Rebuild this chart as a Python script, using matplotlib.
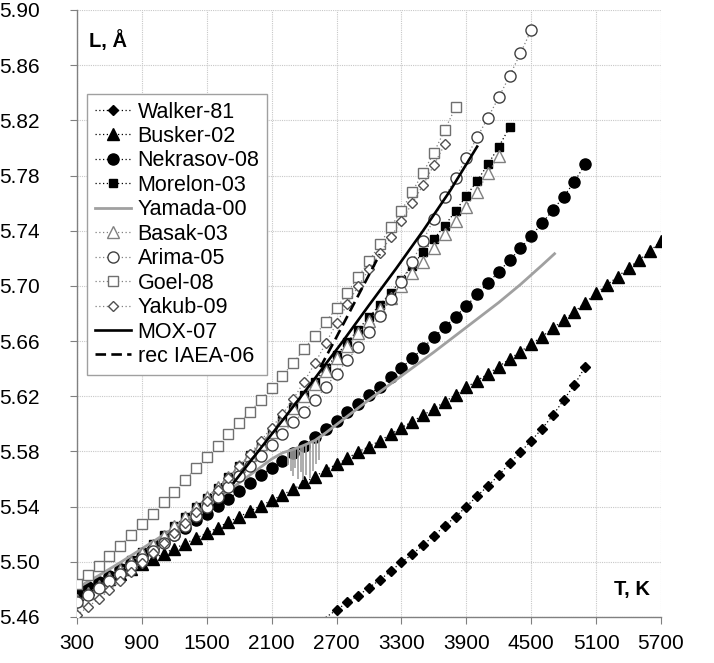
import matplotlib
matplotlib.use("Agg")
import matplotlib.pyplot as plt
import numpy as np
from matplotlib.lines import Line2D

plt.rcParams['font.family'] = ['Liberation Sans', 'DejaVu Sans']

# ---------------- data ----------------
walker_T = list(range(2600, 5001, 100))
walker_L = [5.4597, 5.4651, 5.4707, 5.4755, 5.4813, 5.4868, 5.4933, 5.4996, 5.5054, 5.5122,
            5.5190, 5.5260, 5.5327, 5.5400, 5.5477, 5.5550, 5.5629, 5.5714, 5.5796, 5.5878,
            5.5965, 5.6062, 5.6173, 5.6284, 5.6415]

busker_T = list(range(300, 5701, 100))
busker_L = [5.4770, 5.4805, 5.4840, 5.4876, 5.4912, 5.4948, 5.4985, 5.5020, 5.5060, 5.5096,
            5.5132, 5.5172, 5.5207, 5.5248, 5.5288, 5.5327, 5.5366, 5.5408, 5.5445, 5.5487,
            5.5525, 5.5575, 5.5618, 5.5666, 5.5707, 5.5750, 5.5798, 5.5835, 5.5878, 5.5924,
            5.5972, 5.6016, 5.6064, 5.6108, 5.6161, 5.6209, 5.6265, 5.6313, 5.6362, 5.6415,
            5.6470, 5.6523, 5.6579, 5.6632, 5.6693, 5.6753, 5.6813, 5.6878, 5.6947, 5.7007,
            5.7067, 5.7130, 5.7188, 5.7252, 5.7326]

nekrasov_T = list(range(300, 5001, 100))
nekrasov_L = [5.4775, 5.4815, 5.4857, 5.4900, 5.4945, 5.4992, 5.5040, 5.5090, 5.5141, 5.5194,
              5.5245, 5.5300, 5.5350, 5.5403, 5.5458, 5.5513, 5.5569, 5.5627, 5.5679, 5.5728,
              5.5787, 5.5838, 5.5902, 5.5961, 5.6024, 5.6086, 5.6142, 5.6209, 5.6270, 5.6338,
              5.6407, 5.6475, 5.6552, 5.6628, 5.6700, 5.6777, 5.6854, 5.6939, 5.7020, 5.7103,
              5.7186, 5.7272, 5.7362, 5.7454, 5.7550, 5.7647, 5.7756, 5.7884]

morelon_T = list(range(300, 4301, 100))
morelon_L = [5.4740, 5.4790, 5.4842, 5.4896, 5.4952, 5.5010, 5.5069, 5.5130, 5.5193, 5.5258,
             5.5325, 5.5394, 5.5465, 5.5538, 5.5614, 5.5692, 5.5773, 5.5856, 5.5942, 5.6030,
             5.6120, 5.6212, 5.6306, 5.6402, 5.6498, 5.6592, 5.6684, 5.6774, 5.6862, 5.6950,
             5.7045, 5.7147, 5.7244, 5.7340, 5.7436, 5.7543, 5.7652, 5.7762, 5.7881, 5.8009,
             5.8150]

yamada_T = [300, 500, 700, 900, 1100, 1300, 1500, 1700, 1900, 2100, 2200, 2300, 2400, 2500,
            2600, 2700, 2800, 2900, 3000, 3200, 3400, 3600, 3800, 4000, 4200, 4400, 4600, 4725]
yamada_L = [5.4810, 5.4900, 5.4995, 5.5095, 5.5195, 5.5300, 5.5405, 5.5515, 5.5630, 5.5745,
            5.5790, 5.5815, 5.5845, 5.5880, 5.5935, 5.5995, 5.6055, 5.6115, 5.6175, 5.6290,
            5.6405, 5.6520, 5.6640, 5.6760, 5.6880, 5.7010, 5.7150, 5.7240]
yamada_spike_T = [2250, 2280, 2300, 2320, 2345, 2370, 2390, 2420, 2450, 2480, 2510, 2540]
yamada_spike_low = [5.570, 5.566, 5.562, 5.568, 5.560, 5.565, 5.559, 5.563, 5.561, 5.566,
                    5.571, 5.574]

basak_T = list(range(300, 4201, 100))
basak_L = [5.4720, 5.4772, 5.4826, 5.4882, 5.4940, 5.5000, 5.5062, 5.5125, 5.5190, 5.5257,
           5.5325, 5.5395, 5.5467, 5.5541, 5.5617, 5.5695, 5.5775, 5.5857, 5.5940, 5.6025,
           5.6112, 5.6200, 5.6290, 5.6382, 5.6475, 5.6567, 5.6657, 5.6745, 5.6830, 5.6915,
           5.7000, 5.7091, 5.7176, 5.7277, 5.7374, 5.7471, 5.7575, 5.7683, 5.7817, 5.7942]

arima_T = list(range(300, 4501, 100))
arima_L = [5.4711, 5.4760, 5.4810, 5.4862, 5.4915, 5.4968, 5.5022, 5.5076, 5.5135, 5.5198,
           5.5262, 5.5330, 5.5400, 5.5472, 5.5545, 5.5620, 5.5693, 5.5770, 5.5850, 5.5930,
           5.6010, 5.6088, 5.6173, 5.6268, 5.6365, 5.6463, 5.6559, 5.6668, 5.6780, 5.6905,
           5.7031, 5.7176, 5.7328, 5.7485, 5.7642, 5.7780, 5.7930, 5.8077, 5.8220, 5.8367,
           5.8522, 5.8686, 5.8855]

goel_T = list(range(300, 3801, 100))
goel_L = [5.4839, 5.4904, 5.4970, 5.5042, 5.5115, 5.5194, 5.5275, 5.5347, 5.5431, 5.5508,
          5.5595, 5.5680, 5.5757, 5.5840, 5.5926, 5.6004, 5.6088, 5.6173, 5.6262, 5.6350,
          5.6440, 5.6545, 5.6637, 5.6741, 5.6838, 5.6951, 5.7067, 5.7178, 5.7303, 5.7425,
          5.7545, 5.7683, 5.7821, 5.7966, 5.8130, 5.8294]

yakub_T = list(range(300, 3701, 100))
yakub_L = [5.4615, 5.4672, 5.4732, 5.4795, 5.4860, 5.4927, 5.4995, 5.5064, 5.5135, 5.5208,
           5.5283, 5.5360, 5.5440, 5.5522, 5.5606, 5.5693, 5.5783, 5.5877, 5.5973, 5.6070,
           5.6180, 5.6306, 5.6439, 5.6584, 5.6729, 5.6870, 5.6999, 5.7120, 5.7235, 5.7352,
           5.7473, 5.7599, 5.7732, 5.7876, 5.8026]

mox_T = [1750, 2000, 2250, 2500, 2750, 3000, 3250, 3500, 3750, 4000]
mox_L = [5.5575, 5.5825, 5.6075, 5.6330, 5.6590, 5.6860, 5.7125, 5.7400, 5.7690, 5.8010]

iaea_T = [2550, 2700, 2850, 3000, 3100]
iaea_L = [5.6410, 5.6630, 5.6855, 5.7080, 5.7230]

x_ticks = [300, 900, 1500, 2100, 2700, 3300, 3900, 4500, 5100, 5700]
y_ticks = [5.46, 5.50, 5.54, 5.58, 5.62, 5.66, 5.70, 5.74, 5.78, 5.82, 5.86, 5.90]
y_tick_labels = ["5.46", "5.50", "5.54", "5.58", "5.62", "5.66", "5.70", "5.74", "5.78",
                 "5.82", "5.86", "5.90"]

# ---------------- figure ----------------
fig = plt.figure(figsize=(7.14, 6.63), dpi=100)
ax = fig.add_axes([77 / 714, 1 - 617 / 663, 584 / 714, 607 / 663])
ax.set_xlim(300, 5700)
ax.set_ylim(5.46, 5.90)

GRAY = '#a0a0a0'
DOT = (0, (1, 2))

# marker styles
S_WALKER = dict(marker='D', ms=5.3, mfc='black', mec='black')
S_BUSKER = dict(marker='^', ms=8.2, mfc='black', mec='black')
S_NEKR = dict(marker='o', ms=8.0, mfc='black', mec='black')
S_MOREL = dict(marker='s', ms=6.0, mfc='black', mec='black')
S_BASAK = dict(marker='^', ms=8.2, mfc='white', mec='#808080', mew=1.0)
S_ARIMA = dict(marker='o', ms=8.0, mfc='white', mec='#404040', mew=1.0)
S_GOEL = dict(marker='s', ms=6.6, mfc='white', mec='#707070', mew=1.0)
S_YAKUB = dict(marker='D', ms=5.6, mfc='white', mec='#505050', mew=1.0)

# Walker: line incl. off-axis start, markers only in range
ax.plot(walker_T, walker_L, linestyle=DOT, color='black', lw=0.9, zorder=2)
wT = np.array(walker_T); wL = np.array(walker_L)
vis = wL >= 5.46
ax.plot(wT[vis], wL[vis], linestyle='none', zorder=3, **S_WALKER)

ax.plot(busker_T, busker_L, linestyle=DOT, color='black', lw=0.9, zorder=3, **S_BUSKER)
ax.plot(nekrasov_T, nekrasov_L, linestyle=DOT, color='black', lw=0.9, zorder=3, **S_NEKR)
ax.plot(morelon_T, morelon_L, linestyle=DOT, color='black', lw=0.9, zorder=3, **S_MOREL)

ax.plot(yamada_T, yamada_L, color=GRAY, lw=2.0, zorder=3, solid_capstyle='butt')
ax.vlines(yamada_spike_T, yamada_spike_low,
          np.interp(yamada_spike_T, yamada_T, yamada_L), color=GRAY, lw=1.2, zorder=3)

ax.plot(basak_T, basak_L, linestyle=DOT, color='#808080', lw=0.9, zorder=4, **S_BASAK)
ax.plot(arima_T, arima_L, linestyle=DOT, color='#808080', lw=0.9, zorder=4, **S_ARIMA)
ax.plot(goel_T, goel_L, linestyle=DOT, color='#808080', lw=0.9, zorder=4, **S_GOEL)
ax.plot(yakub_T, yakub_L, linestyle=DOT, color='#808080', lw=0.9, zorder=4, **S_YAKUB)

ax.plot(mox_T, mox_L, color='black', lw=1.9, zorder=5)
ax.plot(iaea_T, iaea_L, color='black', lw=1.9, linestyle=(0, (4, 2)), zorder=5)

# axes styling
ax.set_xticks(x_ticks)
ax.set_xticklabels([str(t) for t in x_ticks])
ax.set_yticks(y_ticks)
ax.set_yticklabels(y_tick_labels)
ax.grid(True, color='#c8c8c8', linestyle=(0, (1, 1)), lw=0.8, zorder=0)
ax.set_axisbelow(True)
for s in ['top', 'right']:
    ax.spines[s].set_visible(False)
for s in ['left', 'bottom']:
    ax.spines[s].set_color('#808080')
    ax.spines[s].set_linewidth(1.0)
ax.tick_params(axis='both', direction='out', length=5, color='#808080', labelsize=15,
               labelcolor='black')
ax.tick_params(axis='x', pad=7)
ax.tick_params(axis='y', pad=22)

ax.text(0.02, 0.95, "L, Å", transform=ax.transAxes, fontsize=14.5, fontweight='bold',
        ha='left', va='center')
ax.text(0.981, 0.045, "T, K", transform=ax.transAxes, fontsize=14.5, fontweight='bold',
        ha='right', va='center')

# legend
handles = [
    Line2D([], [], linestyle=DOT, color='black', lw=0.9, **S_WALKER),
    Line2D([], [], linestyle=DOT, color='black', lw=0.9, **S_BUSKER),
    Line2D([], [], linestyle=DOT, color='black', lw=0.9, **S_NEKR),
    Line2D([], [], linestyle=DOT, color='black', lw=0.9, **S_MOREL),
    Line2D([], [], color=GRAY, lw=2.0),
    Line2D([], [], linestyle=DOT, color='#808080', lw=0.9, **S_BASAK),
    Line2D([], [], linestyle=DOT, color='#808080', lw=0.9, **S_ARIMA),
    Line2D([], [], linestyle=DOT, color='#808080', lw=0.9, **S_GOEL),
    Line2D([], [], linestyle=DOT, color='#808080', lw=0.9, **S_YAKUB),
    Line2D([], [], color='black', lw=1.9),
    Line2D([], [], color='black', lw=1.9, linestyle=(0, (4, 2))),
]
labels = ["Walker-81", "Busker-02", "Nekrasov-08", "Morelon-03", "Yamada-00", "Basak-03",
          "Arima-05", "Goel-08", "Yakub-09", "MOX-07", "rec IAEA-06"]
leg = ax.legend(handles, labels, loc='upper left', bbox_to_anchor=(10 / 584, (617 - 94) / 607),
                borderaxespad=0, fontsize=15.5, frameon=True, fancybox=False,
                handlelength=1.7, handletextpad=0.3, labelspacing=0.16, borderpad=0.35)
leg.get_frame().set_edgecolor('#a0a0a0')
leg.get_frame().set_linewidth(1.0)
leg.get_frame().set_facecolor('white')
leg.get_frame().set_alpha(1.0)
leg.set_zorder(10)

fig.savefig("out.png", dpi=100)
